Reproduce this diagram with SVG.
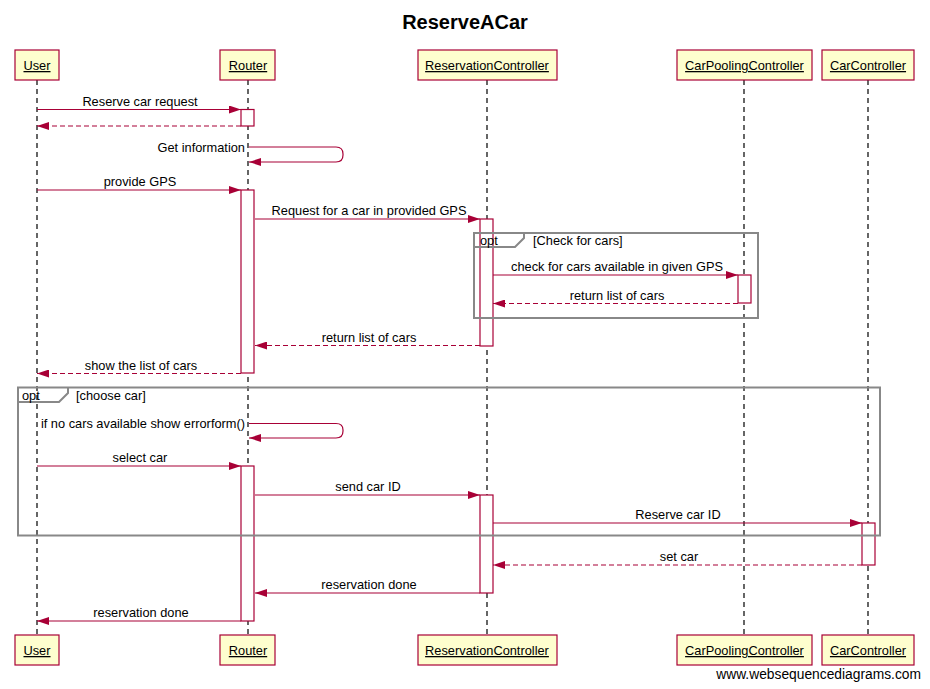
<svg xmlns="http://www.w3.org/2000/svg" width="930" height="689" viewBox="0 0 930 689">
<defs>
<style>
text{font-family:"Liberation Sans",Arial,sans-serif;font-size:12.8px;fill:#000}
.title{font-size:20px;font-weight:bold}
.pbox{fill:#fefece;stroke:#a80036;stroke-width:1.2}
.plabel{text-decoration:underline;text-anchor:middle}
.life{stroke:#000;stroke-width:1.2;stroke-dasharray:5,4;fill:none}
.act{fill:#fff;stroke:#a80036;stroke-width:1.2}
.frame{fill:none;stroke:#888;stroke-width:2}
.msg{stroke:#a80036;stroke-width:1.2;fill:none;marker-end:url(#ah)}
.dash{stroke-dasharray:5,3}
.lbl{text-anchor:middle}
.sl{text-anchor:end}
</style>
<marker id="ah" markerUnits="userSpaceOnUse" markerWidth="12" markerHeight="8" refX="12" refY="4" orient="auto">
<path d="M0,0 L12,4 L0,8 z" fill="#a80036"/>
</marker>
</defs>
<rect width="930" height="689" fill="#fff"/>
<text class="title" x="465" y="29" text-anchor="middle">ReserveACar</text>

<g id="lifelines">
<line class="life" x1="37" y1="80" x2="37" y2="635"/>
<line class="life" x1="248" y1="80" x2="248" y2="635"/>
<line class="life" x1="487" y1="80" x2="487" y2="635"/>
<line class="life" x1="744" y1="80" x2="744" y2="635"/>
<line class="life" x1="868" y1="80" x2="868" y2="635"/>
</g>

<g id="User">
<rect class="pbox" x="15" y="50" width="44" height="30"/>
<text class="plabel" x="37" y="70">User</text>
<rect class="pbox" x="15" y="635" width="44" height="30"/>
<text class="plabel" x="37" y="655">User</text>
</g>
<g id="Router">
<rect class="pbox" x="220" y="50" width="55" height="30"/>
<text class="plabel" x="248" y="70">Router</text>
<rect class="pbox" x="220" y="635" width="55" height="30"/>
<text class="plabel" x="248" y="655">Router</text>
</g>
<g id="ReservationController">
<rect class="pbox" x="418" y="50" width="139" height="30"/>
<text class="plabel" x="487" y="70">ReservationController</text>
<rect class="pbox" x="418" y="635" width="139" height="30"/>
<text class="plabel" x="487" y="655">ReservationController</text>
</g>
<g id="CarPoolingController">
<rect class="pbox" x="677" y="50" width="135" height="30"/>
<text class="plabel" x="744.5" y="70">CarPoolingController</text>
<rect class="pbox" x="677" y="635" width="135" height="30"/>
<text class="plabel" x="744.5" y="655">CarPoolingController</text>
</g>
<g id="CarController">
<rect class="pbox" x="822" y="50" width="92" height="30"/>
<text class="plabel" x="868" y="70">CarController</text>
<rect class="pbox" x="822" y="635" width="92" height="30"/>
<text class="plabel" x="868" y="655">CarController</text>
</g>

<g id="activations">
<rect class="act" x="241" y="109.5" width="13" height="16.5"/>
<rect class="act" x="241" y="190" width="13" height="183"/>
<rect class="act" x="480" y="219" width="13" height="127"/>
<rect class="act" x="738" y="275" width="13" height="28"/>
<rect class="act" x="241" y="466" width="13" height="155"/>
<rect class="act" x="480" y="495" width="13" height="98"/>
<rect class="act" x="862" y="523" width="13" height="42"/>
</g>

<g id="frame-check">
<rect class="frame" x="474" y="233" width="284" height="85"/>
<path class="frame" d="M474,247 H515 L524,238 V233"/>
<text x="480" y="245">opt</text>
<text x="533" y="245">[Check for cars]</text>
</g>
<g id="frame-choose">
<rect class="frame" x="18" y="387.5" width="862" height="148"/>
<path class="frame" d="M18,402 H59 L68,393 V387.5"/>
<text x="22" y="400">opt</text>
<text x="76" y="400">[choose car]</text>
</g>

<g id="connectors">
<line class="msg" x1="37" y1="109.5" x2="241" y2="109.5"/>
<text class="lbl" x="140" y="105.5">Reserve car request</text>
<line class="msg dash" x1="241" y1="126" x2="37" y2="126"/>

<path class="msg" d="M249,147 H336 Q343,147 343,154 V155 Q343,162 336,162 H249"/>
<text class="sl" x="245" y="151.5">Get information</text>

<line class="msg" x1="37" y1="190" x2="241" y2="190"/>
<text class="lbl" x="140" y="186">provide GPS</text>

<line class="msg" x1="255" y1="219" x2="480" y2="219"/>
<text class="lbl" x="369" y="215">Request for a car in provided GPS</text>

<line class="msg" x1="493" y1="275" x2="738" y2="275"/>
<text class="lbl" x="617" y="271">check for cars available in given GPS</text>

<line class="msg dash" x1="738" y1="303.5" x2="493" y2="303.5"/>
<text class="lbl" x="617" y="299.5">return list of cars</text>

<line class="msg dash" x1="480" y1="345.5" x2="255" y2="345.5"/>
<text class="lbl" x="369" y="341.5">return list of cars</text>

<line class="msg dash" x1="241" y1="373.5" x2="37" y2="373.5"/>
<text class="lbl" x="141" y="369.5">show the list of cars</text>

<path class="msg" d="M249,423.5 H336 Q343,423.5 343,430 V431 Q343,438 336,438 H249"/>
<text class="sl" x="245" y="428">if no cars available show errorform()</text>

<line class="msg" x1="37" y1="466" x2="241" y2="466"/>
<text class="lbl" x="140" y="462">select car</text>

<line class="msg" x1="255" y1="495" x2="480" y2="495"/>
<text class="lbl" x="368" y="491">send car ID</text>

<line class="msg" x1="493" y1="523" x2="862" y2="523"/>
<text class="lbl" x="678" y="519">Reserve car ID</text>

<line class="msg dash" x1="862" y1="565" x2="493" y2="565"/>
<text class="lbl" x="679" y="561">set car</text>

<line class="msg" x1="480" y1="593" x2="255" y2="593"/>
<text class="lbl" x="369" y="589">reservation done</text>

<line class="msg" x1="241" y1="621" x2="37" y2="621"/>
<text class="lbl" x="141" y="617">reservation done</text>
</g>

<text x="921" y="679" text-anchor="end" style="font-size:13.8px">www.websequencediagrams.com</text>
</svg>
